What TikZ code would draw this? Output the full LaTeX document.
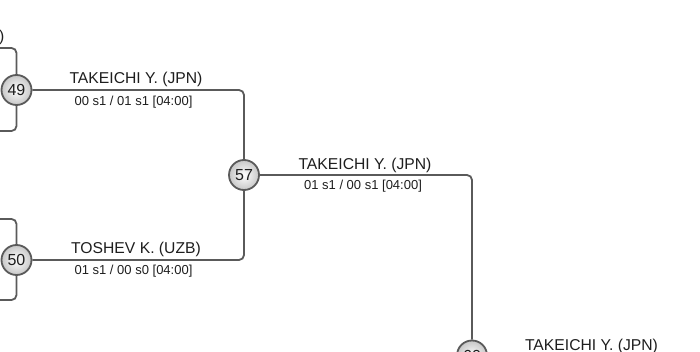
\documentclass[tikz,border=0pt]{standalone}
\usepackage{fontspec}
\setmainfont{Liberation Sans}
\definecolor{linegray}{HTML}{5A5A5A}
\definecolor{txt}{HTML}{1E1E1E}
\begin{document}
\begin{tikzpicture}[x=1pt,y=-1pt,
  match/.style={circle, draw=linegray, line width=1.8pt, minimum size=30pt, inner sep=0pt,
    inner color=white, outer color=black!22, font=\fontsize{16}{16}\selectfont, text=txt},
  conn/.style={draw=linegray, line width=1.8pt, rounded corners=5pt},
  pname/.style={anchor=base, inner sep=0pt, font=\fontsize{15.7}{16}\selectfont, text=txt},
  pscore/.style={anchor=base, inner sep=0pt, font=\fontsize{13}{13}\selectfont, text=txt}]
\useasboundingbox (0,0) rectangle (700,352);

% left bracket end points
\coordinate (l49t) at (0,48);
\coordinate (l49b) at (0,131);
\coordinate (l50t) at (0,219);
\coordinate (l50b) at (0,300);

% connectors
\draw[conn] (l49t) -| (16.5,74);
\draw[conn] (l49b) -| (16.5,106);
\draw[conn] (l50t) -| (16.5,244);
\draw[conn] (l50b) -| (16.5,276);

\node[match] (c49) at (16.5,90) {49};
\node[match] (c50) at (16.5,260) {50};
\node[match] (c57) at (244,175) {57};
\node[match] (c60) at (472,355.5) {60};

\draw[conn] (c49.east) -| (c57.north);
\draw[conn] (c50.east) -| (c57.south);
\draw[conn] (c57.east) -| (c60.north);

% labels
\node[pname, anchor=base east] (t0) at (4.5,42) {)};
\node[pname] (n49) at (136,84) {TAKEICHI Y. (JPN)};
\node[pscore] (s49) at (133.5,106) {00 s1 / 01 s1 [04:00]};
\node[pname] (n50) at (136,254) {TOSHEV K. (UZB)};
\node[pscore] (s50) at (133.5,274) {01 s1 / 00 s0 [04:00]};
\node[pname] (n57) at (365,170) {TAKEICHI Y. (JPN)};
\node[pscore] (s57) at (363,190) {01 s1 / 00 s1 [04:00]};
\node[pname] (n60) at (591.5,350) {TAKEICHI Y. (JPN)};
\end{tikzpicture}
\end{document}
